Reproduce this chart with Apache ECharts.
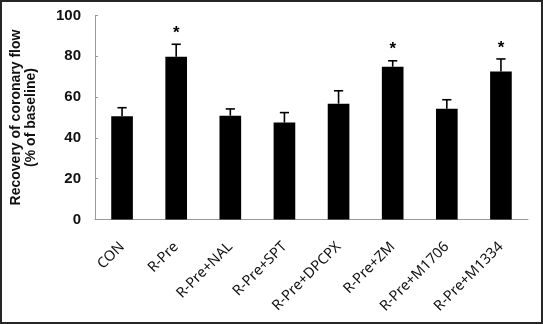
<!DOCTYPE html>
<html>
<head>
<meta charset="utf-8">
<script src="https://cdn.jsdelivr.net/npm/echarts@6/dist/echarts.min.js"></script>
<style>
  html, body { margin: 0; padding: 0; background: #fff; }
  #frame { position: relative; width: 543px; height: 324px; box-sizing: border-box; border: 2px solid #262626; }
  #chart { position: absolute; left: -2px; top: -2px; width: 543px; height: 324px; }
</style>
</head>
<body>
<div id="frame"><div id="chart"></div></div>
<script>
// Groups along the x axis
const categories = ['CON', 'R-Pre', 'R-Pre+NAL', 'R-Pre+SPT', 'R-Pre+DPCPX', 'R-Pre+ZM', 'R-Pre+M1706', 'R-Pre+M1334'];
// Mean recovery of coronary flow (% of baseline)
const means = [50.6, 79.8, 50.9, 47.5, 56.8, 74.9, 54.3, 72.6];
// Upper error (SEM) added on top of each mean
const errors = [4.2, 6.1, 3.3, 4.9, 6.3, 2.9, 4.4, 6.1];
// Significance markers
const marks = ['', '*', '', '', '', '*', '', '*'];
// Y axis ticks
const yTicks = [0, 20, 40, 60, 80, 100];

const chart = echarts.init(document.getElementById('chart'), null, { renderer: 'canvas' });

const errData = categories.map((c, i) => [i, means[i], means[i] + errors[i], marks[i]]);

chart.setOption({
  animation: false,
  grid: { left: 95, right: 15, top: 15.5, bottom: 104.5, containLabel: false },
  xAxis: {
    type: 'category',
    data: categories,
    axisLine: { lineStyle: { color: '#9a9a9a', width: 1 } },
    axisTick: { show: false },
    axisLabel: {
      rotate: 45,
      margin: 25,
      interval: 0,
      color: '#111',
      fontSize: 14.5,
      fontFamily: 'Noto Sans, Open Sans, sans-serif'
    }
  },
  yAxis: {
    type: 'value',
    min: yTicks[0],
    max: yTicks[yTicks.length - 1],
    interval: 20,
    name: 'Recovery of coronary flow\n(% of baseline)',
    nameLocation: 'middle',
    nameGap: 56,
    nameTextStyle: {
      fontSize: 14,
      fontWeight: 'bold',
      color: '#111',
      lineHeight: 15,
      fontFamily: 'Liberation Sans, Arial, sans-serif'
    },
    axisLine: { show: true, lineStyle: { color: '#9a9a9a', width: 1 } },
    axisTick: { show: true, inside: true, length: 3, lineStyle: { color: '#9a9a9a' } },
    splitLine: { show: false },
    axisLabel: {
      margin: 14,
      color: '#111',
      fontSize: 15,
      fontWeight: 'bold',
      fontFamily: 'Liberation Sans, Arial, sans-serif'
    }
  },
  series: [
    {
      type: 'bar',
      data: means,
      barWidth: '40%',
      itemStyle: { color: '#000' }
    },
    {
      type: 'custom',
      data: errData,
      encode: { x: 0, y: [1, 2] },
      z: 5,
      renderItem: function (params, api) {
        const x = api.value(0);
        const lo = api.coord([x, api.value(1)]);
        const hi = api.coord([x, api.value(2)]);
        const half = 4.6;
        const style = { stroke: '#000', lineWidth: 1.6 };
        const children = [
          { type: 'line', shape: { x1: lo[0], y1: lo[1], x2: hi[0], y2: hi[1] }, style: style },
          { type: 'line', shape: { x1: hi[0] - half, y1: hi[1], x2: hi[0] + half, y2: hi[1] }, style: style }
        ];
        const m = api.value(3);
        if (m) {
          children.push({
            type: 'text',
            style: {
              text: m,
              x: hi[0],
              y: hi[1] - 11,
              align: 'center',
              verticalAlign: 'middle',
              fontSize: 17,
              fontWeight: 'bold',
              fill: '#000',
              fontFamily: 'Liberation Sans, Arial, sans-serif'
            }
          });
        }
        return { type: 'group', children: children };
      }
    }
  ]
});
</script>
</body>
</html>
